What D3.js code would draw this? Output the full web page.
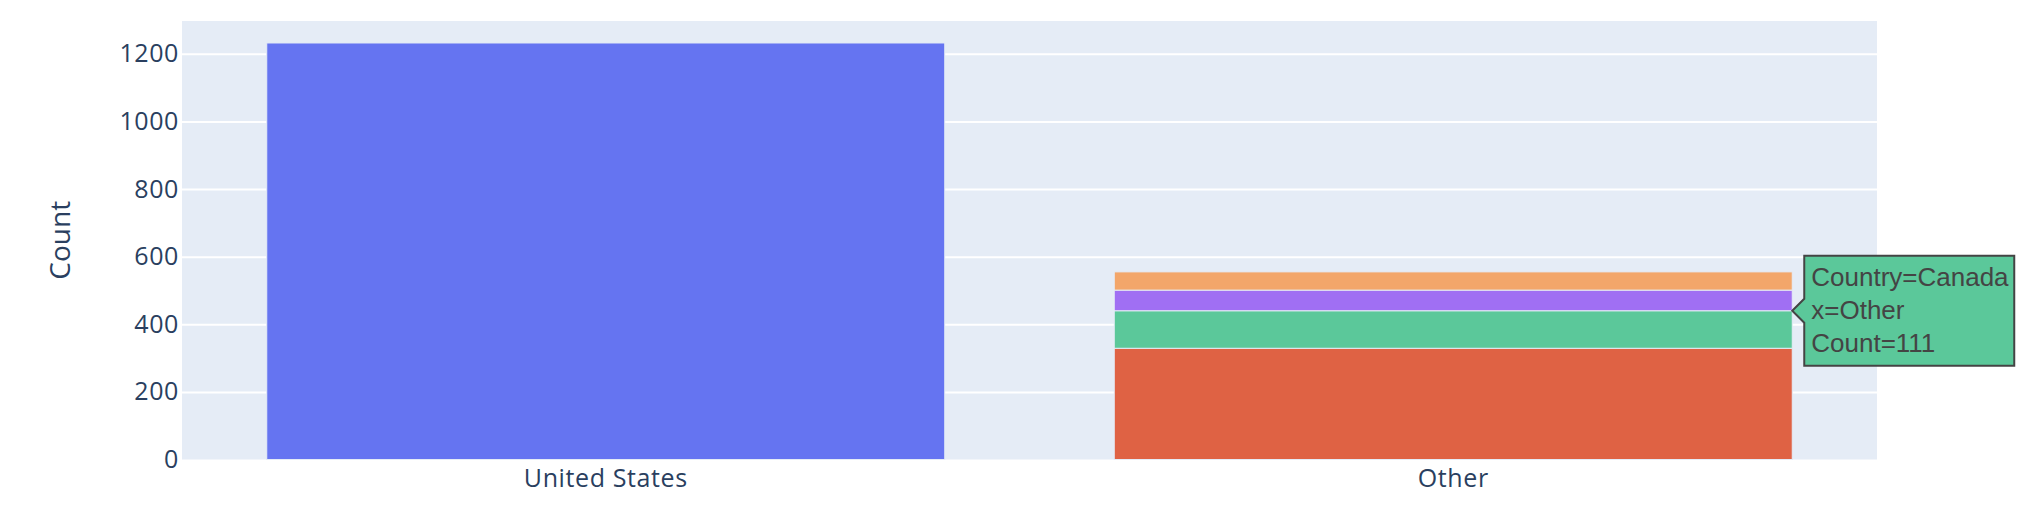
<!DOCTYPE html>
<html>
<head>
<meta charset="utf-8">
<script src="https://cdn.jsdelivr.net/npm/d3@7"></script>
<style>
  html, body { margin: 0; padding: 0; background: #ffffff; }
  svg { display: block; }
</style>
</head>
<body>
<svg id="chart" width="2032" height="526"></svg>
<script>
// ---- data ----
const categories = ["United States", "Other"];
const seriesNames = ["United States", "India", "Canada", "United Kingdom", "Germany"];
const seriesColors = ["#6574f1", "#df6244", "#5bc89a", "#a06ff3", "#f3a66a"];
// counts per series for each category [United States, Other]
const seriesValues = [
  [1232, 0],
  [0, 329],
  [0, 111],
  [0, 61],
  [0, 54]
];
const yTicks = [0, 200, 400, 600, 800, 1000, 1200];
const yTitle = "Count";
const hoverSeries = "Canada";
const hoverCategory = "Other";

// ---- layout ----
const svg = d3.select("#chart");
const plot = { left: 182, right: 1877, top: 21, bottom: 459.5 };
const textColor = "#2a3f5f";
const tickFont = "'Open Sans', verdana, arial, sans-serif";

const x = d3.scaleBand()
  .domain(categories)
  .range([plot.left, plot.right])
  .paddingInner(0.2)
  .paddingOuter(0.1);

const y = d3.scaleLinear()
  .domain([0, 1297])
  .range([plot.bottom, plot.top]);

// background
svg.append("rect")
  .attr("x", plot.left).attr("y", plot.top)
  .attr("width", plot.right - plot.left)
  .attr("height", plot.bottom - plot.top)
  .attr("fill", "#e5ecf6");

// gridlines via axis
const yAxisGrid = d3.axisLeft(y).tickValues(yTicks.filter(d => d > 0))
  .tickSize(-(plot.right - plot.left)).tickFormat("");
svg.append("g")
  .attr("transform", `translate(${plot.left},0)`)
  .call(yAxisGrid)
  .call(g => g.select(".domain").remove())
  .call(g => g.selectAll("line").attr("stroke", "#ffffff").attr("stroke-width", 2));

// stacked bars
const tableRows = categories.map((c, ci) => {
  const row = { category: c };
  seriesNames.forEach((s, si) => row[s] = seriesValues[si][ci]);
  return row;
});
const stack = d3.stack().keys(seriesNames)(tableRows);

stack.forEach((layer, si) => {
  svg.append("g")
    .selectAll("rect")
    .data(layer.filter(d => d[1] - d[0] > 0))
    .join("rect")
    .attr("x", d => x(d.data.category))
    .attr("width", x.bandwidth())
    .attr("y", d => y(d[1]))
    .attr("height", d => y(d[0]) - y(d[1]))
    .attr("fill", seriesColors[si])
    .attr("stroke", "#e5ecf6")
    .attr("stroke-width", 1);
});

// y axis labels
const yAxis = d3.axisLeft(y).tickValues(yTicks).tickFormat(d3.format("d")).tickSize(0).tickPadding(3);
svg.append("g")
  .attr("transform", `translate(${plot.left},0)`)
  .call(yAxis)
  .call(g => g.select(".domain").remove())
  .call(g => g.selectAll("text")
    .attr("font-family", tickFont)
    .attr("font-size", 25)
    .attr("letter-spacing", "0.6px")
    .attr("fill", textColor));

// x axis labels
const xAxis = d3.axisBottom(x).tickSize(0).tickPadding(0);
svg.append("g")
  .attr("transform", `translate(0,${plot.bottom})`)
  .call(xAxis)
  .call(g => g.select(".domain").remove())
  .call(g => g.selectAll("text")
    .attr("dy", null)
    .attr("y", 27)
    .attr("font-family", tickFont)
    .attr("font-size", 25)
    .attr("letter-spacing", "0.6px")
    .attr("fill", textColor));

// y title
svg.append("text")
  .attr("transform", `translate(70,${(plot.top + plot.bottom) / 2}) rotate(-90)`)
  .attr("text-anchor", "middle")
  .attr("font-family", tickFont)
  .attr("font-size", 28)
  .attr("fill", textColor)
  .text(yTitle);

// hover label
const hi = seriesNames.indexOf(hoverSeries);
const hc = categories.indexOf(hoverCategory);
const hd = stack[hi][hc];
const tipX = x(hoverCategory) + x.bandwidth();
const tipY = y(hd[1]);
const lines = [
  `Country=${hoverSeries}`,
  `x=${hoverCategory}`,
  `Count=${seriesValues[hi][hc]}`
];
const arrow = 12, boxW = 210, boxH = 110, boxTopOff = 55;
const hover = svg.append("g").attr("transform", `translate(${tipX},${tipY})`);
hover.append("path")
  .attr("d", `M0,0 L${arrow},${-arrow} V${-boxTopOff} H${arrow + boxW} V${boxH - boxTopOff} H${arrow} V${arrow} Z`)
  .attr("fill", seriesColors[hi])
  .attr("stroke", "#444444")
  .attr("stroke-width", 2);
hover.selectAll("text.hl")
  .data(lines)
  .join("text")
  .attr("class", "hl")
  .attr("x", arrow + 7)
  .attr("y", (d, i) => -25 + i * 33.3)
  .attr("font-family", "Arial, 'Liberation Sans', sans-serif")
  .attr("font-size", 26)
  .attr("fill", "#444444")
  .text(d => d);
</script>
</body>
</html>
